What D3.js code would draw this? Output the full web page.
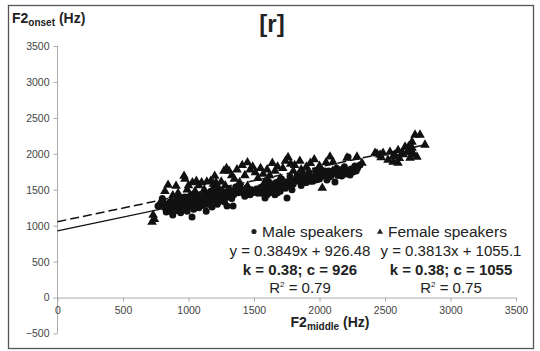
<!DOCTYPE html>
<html>
<head>
<meta charset="utf-8">
<script src="https://cdn.jsdelivr.net/npm/d3@7"></script>
<style>
  body { margin: 0; background: #fff; }
  text { font-family: "Liberation Sans", Arial, sans-serif; }
  .tick text { font-size: 10.5px; fill: #444; }
  .axis path, .axis line { stroke: #aaa; }
</style>
</head>
<body>
<div id="chart"></div>
<script>
// --- data (F2middle, F2onset in Hz) ---
var maleSpeakers = [
  [780,1280],[800,1380],[820,1250],[840,1300],[850,1200],[860,1330],[870,1260],[880,1150],[890,1230],[900,1290],[810,1320],[830,1190],[767,1274],
  [910,1350],[920,1220],[930,1280],[940,1180],[950,1320],[960,1250],[970,1400],[980,1300],[990,1200],[1000,1350],[1010,1270],[1027,1121],
  [1030,1320],[1040,1230],[1050,1400],[1060,1300],[1070,1360],[1080,1250],[1090,1420],[1100,1330],[1025,1430],[945,1380],
  [1110,1280],[1120,1380],[1130,1450],[1140,1300],[1150,1400],[1160,1340],[1170,1480],[1180,1260],[1190,1420],[1200,1360],
  [1210,1450],[1220,1300],[1230,1500],[1240,1390],[1250,1440],[1260,1350],[1270,1470],[1280,1400],[1294,1274],[1300,1450],
  [1135,1200],[1195,1520],[1340,1274],
  [1310,1510],[1320,1420],[1350,1480],[1360,1540],[1380,1460],[1400,1500],[1420,1450],[1440,1520],[1460,1480],[1480,1500],
  [1500,1470],[1520,1510],[1540,1490],[1330,1380],[1390,1560],[1430,1410],[1470,1430],
  [1560,1450],[1584,1386],[1590,1550],[1600,1500],[1610,1620],[1620,1460],[1640,1580],[1650,1520],[1660,1430],[1670,1600],
  [1680,1540],[1700,1480],[1710,1650],[1720,1570],[1740,1520],[1752,1386],[1760,1610],[1775,1680],[1780,1550],[1790,1500],
  [1810,1640],[1830,1700],[1851,1637],[1860,1560],[1870,1720],[1890,1660],[1900,1600],[1920,1740],[1940,1680],[1950,1620],
  [1970,1760],[1990,1700],[2000,1650],[2010,1780],[2030,1720],[2057,1637],
  [2070,1760],[2090,1700],[2118,1609],[2130,1800],[2150,1740],[2170,1690],[2190,1820],[2210,1760],[2233,1706],[2256,1748],
  [2270,1830],[2290,1800],[2309,1845],[2218,1957],
  [870,1340],[900,1210],[935,1330],[965,1290],[995,1380],[1015,1320],[1045,1350],[1075,1290],[1105,1390],[1125,1320],
  [1155,1300],[1165,1420],[1185,1350],[1215,1390],[1235,1340],[1255,1480],[1275,1330],[1305,1400],[1325,1470],[1345,1430],
  [1370,1500],[1410,1480],[1450,1450],[1490,1460],[1530,1450],[1550,1530],[1570,1480],[1615,1530],[1630,1500],[1690,1580],
  [1730,1610],[1770,1590],[1800,1580],[1840,1620],[1880,1600],[1910,1670],[1930,1620],[1960,1680],[1980,1640],[2020,1690],
  [2040,1760],[2080,1680],[2100,1730],[2140,1700],[2160,1780],[2200,1720],[2240,1790],[2280,1760],[1600,1430],[1680,1460]
];

var femaleSpeakers = [
  [722,1052],[730,1149],[740,1090],[790,1340],[820,1480],[844,1567],[860,1300],[880,1420],[905,1553],[890,1200],
  [920,1450],[940,1380],[966,1692],[973,1650],[990,1500],[1000,1560],[1010,1420],[1030,1600],[1050,1480],[1060,1620],
  [1080,1560],[1100,1600],[1120,1500],[1140,1610],[1150,1380],[1040,1300],
  [1170,1620],[1190,1580],[1210,1600],[1230,1520],[1250,1610],[1270,1760],[1290,1800],[1310,1760],[1330,1700],[1350,1650],
  [1370,1780],[1390,1600],[1200,1690],[1280,1560],[1260,1400],
  [1410,1840],[1430,1700],[1450,1880],[1470,1780],[1490,1820],[1510,1740],[1530,1660],[1550,1800],[1570,1720],[1600,1780],
  [1620,1700],[1640,1870],[1660,1760],[1680,1820],[1700,1660],[1450,1550],[1580,1600],
  [1720,1800],[1740,1900],[1760,1950],[1780,1860],[1800,1760],[1810,1840],[1850,1900],[1860,1780],[1900,1820],[1930,1870],
  [1960,1920],[2000,1830],[2050,1880],[2080,1960],[2100,1760],[2021,1524],[1830,1620],[2060,1700],
  [2103,1887],[2210,1943],[2286,1957],[2324,1873],
  [2424,2012],[2439,2000],[2462,1985],[2485,2012],[2470,1950],
  [2538,2026],[2576,1985],[2523,1915],[2561,1887],[2599,1873],[2630,2012],[2653,2096],[2668,2026],[2691,1943],[2706,2082],
  [2706,2166],[2729,2263],[2767,2263],[2805,2124],[2744,1957],[2560,1960],[2610,1940],[2640,1990],[2700,2020],[2720,1990],
  [2680,2100],[2600,2050]
];

var maleFit   = { k: 0.3849, c: 926.48 };
var femaleFit = { k: 0.3813, c: 1055.1 };

var xTicks = [0, 500, 1000, 1500, 2000, 2500, 3000, 3500];
var yTicks = [-500, 0, 500, 1000, 1500, 2000, 2500, 3000, 3500];

var legendLabels = ["Male speakers", "Female speakers"];
var equationLabels = ["y = 0.3849x + 926.48", "y = 0.3813x + 1055.1"];
var coefLabels = ["k = 0.38; c = 926", "k = 0.38; c = 1055"];
var r2Labels = ["0.79", "0.75"];

// --- layout ---
var width = 540, height = 351;

var svg = d3.select("#chart").append("svg")
  .attr("width", width)
  .attr("height", height);

svg.append("rect")
  .attr("x", 8.5).attr("y", 5.5)
  .attr("width", 525).attr("height", 343)
  .attr("fill", "none")
  .attr("stroke", "#555")
  .attr("stroke-width", 1.3);

var x = d3.scaleLinear().domain([0, 3500]).range([57.5, 516]);
var y = d3.scaleLinear().domain([-500, 3500]).range([333.5, 46]);

// y axis
svg.append("g")
  .attr("class", "axis")
  .attr("transform", "translate(" + x(0) + ",0)")
  .call(d3.axisLeft(y).tickValues(yTicks).tickFormat(d3.format("d")).tickSize(4).tickPadding(4).tickSizeOuter(0))
  .call(function(g) { g.select(".domain").attr("d", "M0," + y(-500) + "V" + y(3500)); });

// x axis (drawn at y = 0)
svg.append("g")
  .attr("class", "axis")
  .attr("transform", "translate(0," + y(0) + ")")
  .call(d3.axisBottom(x).tickValues(xTicks).tickFormat(d3.format("d")).tickSize(4).tickPadding(5).tickSizeOuter(0));

svg.selectAll(".tick text").style("font-family", "'Liberation Sans', Arial, sans-serif");

// trend lines, from 0 to the last point of each series
var maleMax = d3.max(maleSpeakers, function(d) { return d[0]; });
var femaleMax = d3.max(femaleSpeakers, function(d) { return d[0]; });

var line = d3.line()
  .x(function(d) { return x(d[0]); })
  .y(function(d) { return y(d[1]); });

// points
svg.append("g").selectAll("circle")
  .data(maleSpeakers)
  .join("circle")
  .attr("cx", function(d) { return x(d[0]); })
  .attr("cy", function(d) { return y(d[1]); })
  .attr("r", 3.5)
  .attr("fill", "#111");

var tri = d3.symbol().type(d3.symbolTriangle).size(40);
svg.append("g").selectAll("path")
  .data(femaleSpeakers)
  .join("path")
  .attr("d", tri)
  .attr("transform", function(d) { return "translate(" + x(d[0]) + "," + y(d[1]) + ")"; })
  .attr("fill", "#111");

svg.append("path")
  .datum([[0, maleFit.c], [maleMax, maleFit.k * maleMax + maleFit.c]])
  .attr("d", line)
  .attr("fill", "none")
  .attr("stroke", "#111")
  .attr("stroke-width", 1.3);

svg.append("path")
  .datum([[0, femaleFit.c], [femaleMax, femaleFit.k * femaleMax + femaleFit.c]])
  .attr("d", line)
  .attr("fill", "none")
  .attr("stroke", "#111")
  .attr("stroke-width", 1.5)
  .attr("stroke-dasharray", "9,4");

// titles
svg.append("text")
  .attr("x", 272).attr("y", 32)
  .attr("text-anchor", "middle")
  .attr("font-size", 24).attr("font-weight", "bold")
  .attr("fill", "#222")
  .text("[r]");

var yt = svg.append("text")
  .attr("x", 12).attr("y", 23)
  .attr("font-size", 14).attr("font-weight", "bold")
  .attr("fill", "#222");
yt.append("tspan").text("F2");
yt.append("tspan").attr("font-size", 10).attr("dy", 3).text("onset");
yt.append("tspan").attr("dy", -3).text(" (Hz)");

var xt = svg.append("text")
  .attr("x", 330).attr("y", 327)
  .attr("text-anchor", "middle")
  .attr("font-size", 14).attr("font-weight", "bold")
  .attr("fill", "#222");
xt.append("tspan").text("F2");
xt.append("tspan").attr("font-size", 10).attr("dy", 3).text("middle");
xt.append("tspan").attr("dy", -3).text(" (Hz)");

// legend + equations block
var cols = [300, 451];
var legX = [262, 388];

legendLabels.forEach(function(t, i) {
  svg.append("text")
    .attr("x", legX[i]).attr("y", 237)
    .attr("font-size", 15.5).attr("fill", "#222")
    .text(t);
});
svg.append("circle").attr("cx", 254).attr("cy", 231.5).attr("r", 2.6).attr("fill", "#222");
svg.append("path")
  .attr("d", d3.symbol().type(d3.symbolTriangle).size(16))
  .attr("transform", "translate(380,232)")
  .attr("fill", "#222");

equationLabels.forEach(function(t, i) {
  svg.append("text")
    .attr("x", cols[i]).attr("y", 256)
    .attr("text-anchor", "middle")
    .attr("font-size", 15).attr("fill", "#222")
    .text(t);
});

coefLabels.forEach(function(t, i) {
  svg.append("text")
    .attr("x", cols[i]).attr("y", 274.5)
    .attr("text-anchor", "middle")
    .attr("font-size", 15).attr("font-weight", "bold").attr("fill", "#222")
    .text(t);
});

r2Labels.forEach(function(t, i) {
  var tx = svg.append("text")
    .attr("x", cols[i]).attr("y", 293)
    .attr("text-anchor", "middle")
    .attr("font-size", 15).attr("fill", "#222");
  tx.append("tspan").text("R");
  tx.append("tspan").attr("font-size", 8).attr("dy", -6).text("2");
  tx.append("tspan").attr("dy", 6).text(" = " + t);
});
</script>
</body>
</html>
